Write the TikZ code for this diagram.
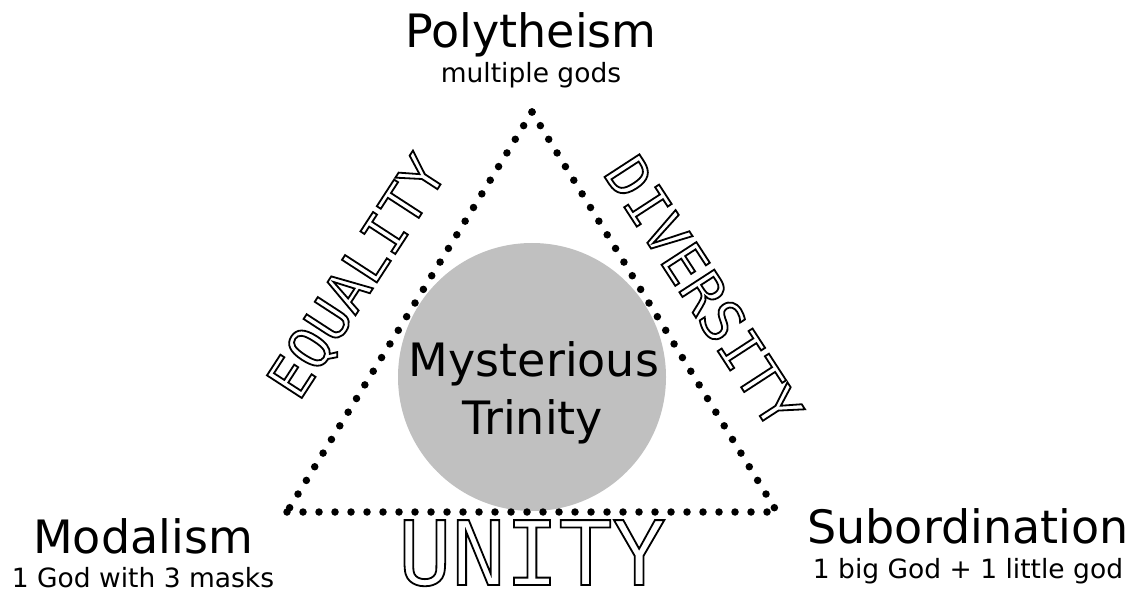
\documentclass[tikz,border=0pt]{standalone}
\usepackage{fontspec}
\setmainfont{DejaVu Sans}
\newfontfamily\hollowfont{DejaVu Sans Mono}
\definecolor{discgray}{HTML}{C0C0C0}
% outlined letters (text render mode 1)
\newcommand{\hollow}[1]{\special{pdf:literal direct 1 Tr 1.8 w}#1\special{pdf:literal direct 0 Tr}}

\begin{document}
\begin{tikzpicture}[x=1pt,y=-1pt,
  title/.style={font=\fontsize{46}{52}\selectfont, anchor=base, inner sep=0pt},
  subtitle/.style={font=\fontsize{26.5}{30}\selectfont, anchor=base, inner sep=0pt},
  virtue/.style={font=\hollowfont\fontsize{57}{64}\selectfont, inner sep=0pt},
  dots/.style={line width=7.5pt, line cap=round, dash pattern=on 0pt off 16pt}]
\useasboundingbox (0,0) rectangle (1140,593);

\fill[discgray] (532,377) circle (134);

\coordinate (apex) at (532,112);
\coordinate (bl) at (287,512);
\coordinate (br) at (777,512);
\draw[dots] (apex) -- (bl);
\draw[dots] (bl) -- (br);
\draw[dots] (apex) -- (br);

\node[title] (myst) at (534,377) {Mysterious};
\node[title] (trin) at (533,434) {Trinity};

\node[title] (poly) at (531,48) {Polytheism};
\node[subtitle] (polysub) at (531,83) {multiple gods};
\node[title] (modal) at (143,553) {Modalism};
\node[subtitle] (modalsub) at (143,587) {1 God with 3 masks};
\node[title] (subord) at (968,543) {Subordination};
\node[subtitle] (subordsub) at (968,578) {1 big God + 1 little god};

\node[virtue, rotate=57] (equal) at (359,278) {\hollow{EQUALITY}};
\node[virtue, rotate=-57] (diverse) at (704,292) {\hollow{DIVERSITY}};
\node[font=\hollowfont\fontsize{89}{90}\selectfont, anchor=base, inner sep=0pt] (unity) at (532,585) {\hollow{UNITY}};
\end{tikzpicture}
\end{document}
